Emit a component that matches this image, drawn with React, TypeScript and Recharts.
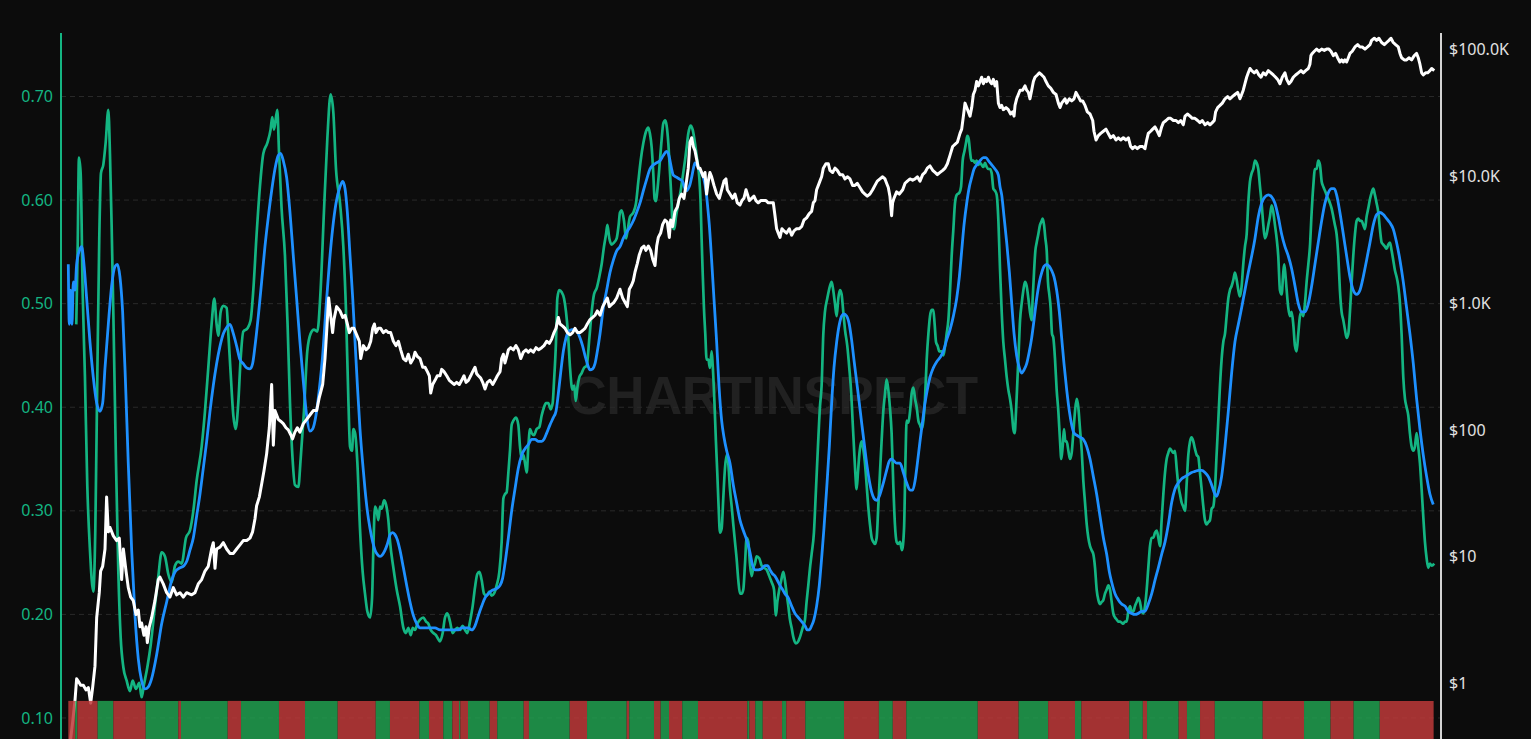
import React from 'react';
import {
  LineChart,
  Line,
  XAxis,
  YAxis,
  CartesianGrid,
  ReferenceArea,
} from 'recharts';

// [decimal year, value]
const oscillator: [number, number][] = [
  [2011.07, 0.48], [2011.085, 0.55], [2011.1, 0.641], [2011.119, 0.626], [2011.141, 0.513], [2011.167, 0.429],
  [2011.193, 0.325], [2011.223, 0.262], [2011.26, 0.222], [2011.283, 0.283], [2011.305, 0.429], [2011.327, 0.563],
  [2011.346, 0.626], [2011.372, 0.634], [2011.398, 0.655], [2011.428, 0.687], [2011.447, 0.643], [2011.465, 0.576],
  [2011.484, 0.492], [2011.514, 0.346], [2011.54, 0.241], [2011.566, 0.178], [2011.596, 0.149], [2011.633, 0.136],
  [2011.67, 0.126], [2011.7, 0.136], [2011.737, 0.128], [2011.774, 0.134], [2011.8, 0.12], [2011.826, 0.132],
  [2011.864, 0.149], [2011.901, 0.17], [2011.949, 0.208], [2011.987, 0.237], [2012.024, 0.26], [2012.061, 0.256],
  [2012.098, 0.239], [2012.136, 0.231], [2012.173, 0.247], [2012.21, 0.251], [2012.247, 0.249], [2012.296, 0.274],
  [2012.34, 0.281], [2012.378, 0.3], [2012.415, 0.329], [2012.471, 0.362], [2012.508, 0.396], [2012.545, 0.438],
  [2012.582, 0.48], [2012.612, 0.505], [2012.638, 0.48], [2012.657, 0.469], [2012.683, 0.492], [2012.713, 0.498],
  [2012.75, 0.496], [2012.769, 0.471], [2012.795, 0.433], [2012.825, 0.392], [2012.851, 0.379], [2012.88, 0.404],
  [2012.906, 0.446], [2012.936, 0.473], [2012.981, 0.476], [2013.018, 0.484], [2013.048, 0.513], [2013.085, 0.567],
  [2013.122, 0.613], [2013.16, 0.645], [2013.204, 0.655], [2013.241, 0.668], [2013.26, 0.68], [2013.279, 0.668],
  [2013.316, 0.687], [2013.335, 0.647], [2013.364, 0.592], [2013.402, 0.546], [2013.431, 0.48], [2013.458, 0.404],
  [2013.487, 0.35], [2013.513, 0.325], [2013.551, 0.323], [2013.577, 0.35], [2013.614, 0.396], [2013.651, 0.454],
  [2013.688, 0.471], [2013.726, 0.475], [2013.763, 0.473], [2013.8, 0.513], [2013.837, 0.588], [2013.875, 0.659],
  [2013.912, 0.702], [2013.942, 0.685], [2013.972, 0.63], [2014.017, 0.597], [2014.054, 0.555], [2014.084, 0.492],
  [2014.11, 0.408], [2014.129, 0.362], [2014.151, 0.358], [2014.166, 0.379], [2014.185, 0.375], [2014.211, 0.346],
  [2014.24, 0.283], [2014.27, 0.241], [2014.296, 0.22], [2014.322, 0.203], [2014.352, 0.197], [2014.375, 0.216],
  [2014.389, 0.262], [2014.408, 0.304], [2014.427, 0.3], [2014.445, 0.291], [2014.464, 0.304], [2014.483, 0.302],
  [2014.509, 0.31], [2014.531, 0.306], [2014.557, 0.291], [2014.576, 0.27], [2014.613, 0.245], [2014.65, 0.224],
  [2014.687, 0.208], [2014.725, 0.187], [2014.754, 0.182], [2014.78, 0.187], [2014.807, 0.18], [2014.829, 0.187],
  [2014.855, 0.185], [2014.881, 0.191], [2014.911, 0.195], [2014.948, 0.197], [2014.978, 0.193], [2015.004, 0.191],
  [2015.03, 0.185], [2015.06, 0.182], [2015.089, 0.18], [2015.116, 0.176], [2015.134, 0.174], [2015.164, 0.182],
  [2015.19, 0.197], [2015.216, 0.201], [2015.246, 0.193], [2015.276, 0.182], [2015.302, 0.185], [2015.328, 0.187],
  [2015.358, 0.185], [2015.387, 0.189], [2015.414, 0.185], [2015.44, 0.182], [2015.469, 0.193], [2015.499, 0.208],
  [2015.525, 0.226], [2015.551, 0.239], [2015.574, 0.241], [2015.6, 0.233], [2015.626, 0.22], [2015.656, 0.218],
  [2015.685, 0.222], [2015.711, 0.218], [2015.737, 0.22], [2015.767, 0.228], [2015.797, 0.241], [2015.823, 0.27],
  [2015.842, 0.312], [2015.86, 0.316], [2015.879, 0.318], [2015.898, 0.337], [2015.916, 0.358], [2015.935, 0.383],
  [2015.954, 0.387], [2015.983, 0.39], [2016.009, 0.383], [2016.028, 0.362], [2016.047, 0.35], [2016.065, 0.354],
  [2016.084, 0.346], [2016.103, 0.337], [2016.121, 0.362], [2016.14, 0.379], [2016.158, 0.375], [2016.184, 0.373],
  [2016.214, 0.379], [2016.244, 0.381], [2016.27, 0.392], [2016.296, 0.4], [2016.318, 0.404], [2016.344, 0.404],
  [2016.37, 0.398], [2016.393, 0.404], [2016.408, 0.425], [2016.43, 0.463], [2016.445, 0.505], [2016.467, 0.513],
  [2016.494, 0.511], [2016.52, 0.505], [2016.542, 0.492], [2016.564, 0.471], [2016.587, 0.438], [2016.613, 0.417],
  [2016.635, 0.421], [2016.65, 0.406], [2016.669, 0.419], [2016.691, 0.429], [2016.717, 0.433], [2016.743, 0.438],
  [2016.773, 0.44], [2016.803, 0.467], [2016.829, 0.492], [2016.855, 0.509], [2016.885, 0.515], [2016.914, 0.526],
  [2016.94, 0.538], [2016.966, 0.555], [2016.989, 0.567], [2017.004, 0.576], [2017.026, 0.563], [2017.052, 0.557],
  [2017.078, 0.559], [2017.108, 0.563], [2017.13, 0.576], [2017.145, 0.588], [2017.164, 0.59], [2017.19, 0.58],
  [2017.212, 0.563], [2017.227, 0.569], [2017.257, 0.584], [2017.294, 0.588], [2017.324, 0.597], [2017.35, 0.618],
  [2017.376, 0.638], [2017.406, 0.655], [2017.435, 0.666], [2017.462, 0.67], [2017.48, 0.664], [2017.499, 0.651],
  [2017.517, 0.626], [2017.532, 0.601], [2017.547, 0.599], [2017.562, 0.609], [2017.584, 0.63], [2017.607, 0.655],
  [2017.629, 0.674], [2017.651, 0.677], [2017.666, 0.672], [2017.685, 0.655], [2017.704, 0.626], [2017.722, 0.597],
  [2017.733, 0.574], [2017.752, 0.572], [2017.771, 0.584], [2017.797, 0.597], [2017.823, 0.609], [2017.845, 0.622],
  [2017.871, 0.638], [2017.89, 0.651], [2017.908, 0.664], [2017.934, 0.672], [2017.957, 0.668], [2017.983, 0.655],
  [2018.009, 0.638], [2018.031, 0.622], [2018.046, 0.597], [2018.057, 0.563], [2018.069, 0.53], [2018.083, 0.496],
  [2018.098, 0.471], [2018.113, 0.446], [2018.132, 0.446], [2018.15, 0.438], [2018.169, 0.454], [2018.18, 0.442],
  [2018.199, 0.408], [2018.217, 0.367], [2018.232, 0.337], [2018.247, 0.304], [2018.262, 0.279], [2018.281, 0.283],
  [2018.299, 0.312], [2018.318, 0.341], [2018.337, 0.354], [2018.355, 0.346], [2018.374, 0.321], [2018.393, 0.304],
  [2018.411, 0.287], [2018.43, 0.27], [2018.448, 0.254], [2018.467, 0.233], [2018.486, 0.22], [2018.504, 0.22],
  [2018.523, 0.224], [2018.542, 0.249], [2018.56, 0.274], [2018.579, 0.27], [2018.597, 0.249], [2018.616, 0.237],
  [2018.635, 0.245], [2018.653, 0.249], [2018.672, 0.256], [2018.702, 0.254], [2018.728, 0.247], [2018.754, 0.245],
  [2018.784, 0.243], [2018.813, 0.237], [2018.84, 0.231], [2018.866, 0.224], [2018.888, 0.199], [2018.903, 0.212],
  [2018.925, 0.224], [2018.947, 0.233], [2018.97, 0.241], [2018.988, 0.233], [2019.007, 0.22], [2019.026, 0.208],
  [2019.044, 0.195], [2019.063, 0.187], [2019.082, 0.178], [2019.111, 0.172], [2019.137, 0.174], [2019.163, 0.18],
  [2019.186, 0.187], [2019.212, 0.195], [2019.23, 0.212], [2019.249, 0.228], [2019.268, 0.245], [2019.286, 0.258],
  [2019.312, 0.279], [2019.335, 0.321], [2019.357, 0.362], [2019.379, 0.4], [2019.398, 0.421], [2019.417, 0.471],
  [2019.435, 0.492], [2019.461, 0.505], [2019.491, 0.517], [2019.51, 0.521], [2019.528, 0.513], [2019.547, 0.5],
  [2019.566, 0.488], [2019.584, 0.505], [2019.603, 0.513], [2019.621, 0.509], [2019.64, 0.492], [2019.659, 0.475],
  [2019.685, 0.459], [2019.707, 0.438], [2019.729, 0.413], [2019.744, 0.387], [2019.759, 0.362], [2019.774, 0.337],
  [2019.789, 0.321], [2019.804, 0.337], [2019.819, 0.354], [2019.834, 0.364], [2019.849, 0.367], [2019.863, 0.36],
  [2019.882, 0.346], [2019.901, 0.325], [2019.919, 0.304], [2019.938, 0.287], [2019.957, 0.274], [2019.975, 0.27],
  [2019.994, 0.268], [2020.013, 0.274], [2020.031, 0.304], [2020.05, 0.337], [2020.068, 0.367], [2020.087, 0.396],
  [2020.106, 0.413], [2020.124, 0.427], [2020.143, 0.417], [2020.161, 0.4], [2020.18, 0.375], [2020.199, 0.325],
  [2020.217, 0.287], [2020.236, 0.27], [2020.255, 0.268], [2020.274, 0.27], [2020.296, 0.262], [2020.319, 0.283],
  [2020.334, 0.346], [2020.348, 0.387], [2020.367, 0.385], [2020.386, 0.396], [2020.404, 0.413], [2020.423, 0.419],
  [2020.442, 0.408], [2020.46, 0.4], [2020.479, 0.387], [2020.497, 0.383], [2020.516, 0.379], [2020.535, 0.387],
  [2020.553, 0.408], [2020.572, 0.446], [2020.591, 0.471], [2020.609, 0.488], [2020.628, 0.494], [2020.646, 0.494],
  [2020.661, 0.48], [2020.676, 0.463], [2020.695, 0.459], [2020.713, 0.454], [2020.74, 0.454], [2020.758, 0.45],
  [2020.777, 0.459], [2020.795, 0.471], [2020.814, 0.484], [2020.833, 0.513], [2020.851, 0.546], [2020.87, 0.572],
  [2020.888, 0.597], [2020.907, 0.605], [2020.937, 0.607], [2020.956, 0.613], [2020.974, 0.638], [2020.993, 0.647],
  [2021.011, 0.655], [2021.026, 0.662], [2021.041, 0.659], [2021.056, 0.647], [2021.071, 0.638], [2021.093, 0.638],
  [2021.112, 0.636], [2021.13, 0.638], [2021.149, 0.634], [2021.168, 0.636], [2021.186, 0.634], [2021.205, 0.632],
  [2021.224, 0.636], [2021.242, 0.632], [2021.261, 0.63], [2021.279, 0.63], [2021.298, 0.626], [2021.317, 0.611],
  [2021.335, 0.609], [2021.354, 0.605], [2021.373, 0.58], [2021.391, 0.534], [2021.41, 0.492], [2021.428, 0.463],
  [2021.447, 0.446], [2021.466, 0.429], [2021.484, 0.417], [2021.503, 0.408], [2021.522, 0.396], [2021.54, 0.379],
  [2021.555, 0.375], [2021.57, 0.396], [2021.585, 0.425], [2021.6, 0.454], [2021.615, 0.484], [2021.633, 0.5],
  [2021.652, 0.513], [2021.67, 0.521], [2021.689, 0.517], [2021.708, 0.505], [2021.726, 0.492], [2021.745, 0.484],
  [2021.756, 0.505], [2021.771, 0.53], [2021.786, 0.551], [2021.801, 0.559], [2021.819, 0.567], [2021.838, 0.576],
  [2021.857, 0.58], [2021.868, 0.582], [2021.883, 0.576], [2021.898, 0.563], [2021.913, 0.551], [2021.927, 0.521],
  [2021.942, 0.509], [2021.957, 0.496], [2021.972, 0.471], [2021.987, 0.467], [2022.006, 0.446], [2022.024, 0.417],
  [2022.043, 0.396], [2022.062, 0.367], [2022.076, 0.35], [2022.091, 0.362], [2022.106, 0.379], [2022.121, 0.367],
  [2022.136, 0.367], [2022.155, 0.358], [2022.173, 0.35], [2022.192, 0.356], [2022.21, 0.375], [2022.229, 0.396],
  [2022.248, 0.408], [2022.266, 0.4], [2022.285, 0.379], [2022.304, 0.358], [2022.322, 0.329], [2022.341, 0.308],
  [2022.36, 0.287], [2022.378, 0.274], [2022.397, 0.266], [2022.415, 0.262], [2022.434, 0.258], [2022.453, 0.245],
  [2022.471, 0.224], [2022.49, 0.214], [2022.508, 0.21], [2022.527, 0.212], [2022.546, 0.214], [2022.564, 0.22],
  [2022.583, 0.224], [2022.601, 0.228], [2022.62, 0.224], [2022.639, 0.212], [2022.657, 0.201], [2022.676, 0.197],
  [2022.695, 0.195], [2022.713, 0.193], [2022.732, 0.193], [2022.75, 0.192], [2022.769, 0.191], [2022.788, 0.193],
  [2022.806, 0.193], [2022.825, 0.203], [2022.844, 0.208], [2022.862, 0.203], [2022.881, 0.203], [2022.899, 0.208],
  [2022.918, 0.212], [2022.937, 0.216], [2022.955, 0.212], [2022.974, 0.203], [2022.993, 0.201], [2023.011, 0.208],
  [2023.03, 0.224], [2023.048, 0.245], [2023.067, 0.266], [2023.086, 0.274], [2023.104, 0.274], [2023.123, 0.279],
  [2023.142, 0.281], [2023.16, 0.274], [2023.179, 0.266], [2023.197, 0.291], [2023.216, 0.316], [2023.235, 0.337],
  [2023.253, 0.35], [2023.272, 0.356], [2023.29, 0.36], [2023.309, 0.358], [2023.328, 0.356], [2023.346, 0.358],
  [2023.365, 0.341], [2023.383, 0.325], [2023.402, 0.316], [2023.42, 0.308], [2023.439, 0.304], [2023.458, 0.3],
  [2023.476, 0.325], [2023.495, 0.354], [2023.514, 0.367], [2023.532, 0.371], [2023.551, 0.367], [2023.569, 0.36],
  [2023.588, 0.354], [2023.607, 0.352], [2023.625, 0.337], [2023.644, 0.321], [2023.663, 0.304], [2023.681, 0.291],
  [2023.7, 0.287], [2023.718, 0.289], [2023.737, 0.291], [2023.756, 0.302], [2023.774, 0.304], [2023.793, 0.321],
  [2023.811, 0.354], [2023.83, 0.387], [2023.849, 0.421], [2023.867, 0.446], [2023.886, 0.463], [2023.905, 0.471],
  [2023.923, 0.488], [2023.942, 0.505], [2023.96, 0.513], [2023.979, 0.517], [2023.998, 0.523], [2024.016, 0.53],
  [2024.035, 0.523], [2024.054, 0.513], [2024.072, 0.507], [2024.091, 0.517], [2024.109, 0.538], [2024.128, 0.555],
  [2024.147, 0.567], [2024.165, 0.597], [2024.184, 0.618], [2024.203, 0.626], [2024.221, 0.63], [2024.24, 0.638],
  [2024.258, 0.636], [2024.277, 0.63], [2024.296, 0.613], [2024.314, 0.597], [2024.333, 0.576], [2024.351, 0.563],
  [2024.37, 0.567], [2024.389, 0.576], [2024.407, 0.584], [2024.426, 0.595], [2024.445, 0.588], [2024.463, 0.576],
  [2024.482, 0.563], [2024.5, 0.546], [2024.519, 0.513], [2024.538, 0.509], [2024.556, 0.53], [2024.567, 0.538],
  [2024.582, 0.526], [2024.594, 0.513], [2024.612, 0.496], [2024.631, 0.488], [2024.649, 0.492], [2024.668, 0.48],
  [2024.687, 0.459], [2024.705, 0.454], [2024.724, 0.471], [2024.743, 0.488], [2024.761, 0.492], [2024.78, 0.488],
  [2024.798, 0.5], [2024.817, 0.521], [2024.836, 0.538], [2024.854, 0.555], [2024.873, 0.588], [2024.891, 0.613],
  [2024.91, 0.63], [2024.929, 0.63], [2024.947, 0.638], [2024.966, 0.634], [2024.985, 0.618], [2025.003, 0.613],
  [2025.022, 0.609], [2025.04, 0.605], [2025.059, 0.601], [2025.078, 0.597], [2025.096, 0.592], [2025.115, 0.584],
  [2025.133, 0.576], [2025.152, 0.567], [2025.171, 0.546], [2025.189, 0.513], [2025.208, 0.492], [2025.227, 0.484],
  [2025.245, 0.475], [2025.264, 0.467], [2025.283, 0.471], [2025.301, 0.492], [2025.32, 0.521], [2025.338, 0.546],
  [2025.357, 0.567], [2025.376, 0.58], [2025.394, 0.582], [2025.413, 0.58], [2025.431, 0.58], [2025.45, 0.576],
  [2025.469, 0.572], [2025.487, 0.584], [2025.506, 0.592], [2025.525, 0.601], [2025.543, 0.607], [2025.562, 0.611],
  [2025.58, 0.605], [2025.599, 0.597], [2025.618, 0.588], [2025.636, 0.572], [2025.655, 0.559], [2025.674, 0.557],
  [2025.692, 0.555], [2025.711, 0.553], [2025.729, 0.557], [2025.748, 0.559], [2025.767, 0.551], [2025.785, 0.542],
  [2025.804, 0.532], [2025.822, 0.526], [2025.841, 0.517], [2025.86, 0.5], [2025.878, 0.471], [2025.897, 0.429],
  [2025.916, 0.408], [2025.934, 0.4], [2025.953, 0.392], [2025.971, 0.375], [2025.99, 0.362], [2026.009, 0.358],
  [2026.027, 0.362], [2026.046, 0.375], [2026.064, 0.362], [2026.083, 0.346], [2026.102, 0.321], [2026.12, 0.295],
  [2026.139, 0.27], [2026.158, 0.254], [2026.176, 0.245], [2026.195, 0.249], [2026.214, 0.247], [2026.243, 0.249],
];

const smoothed: [number, number][] = [
  [2010.981, 0.538], [2010.992, 0.48], [2011.007, 0.513], [2011.022, 0.48], [2011.037, 0.521], [2011.056, 0.513],
  [2011.074, 0.538], [2011.104, 0.551], [2011.13, 0.555], [2011.156, 0.538], [2011.186, 0.505], [2011.223, 0.463],
  [2011.26, 0.429], [2011.298, 0.404], [2011.335, 0.396], [2011.365, 0.404], [2011.391, 0.438], [2011.428, 0.48],
  [2011.465, 0.517], [2011.503, 0.536], [2011.529, 0.538], [2011.558, 0.526], [2011.588, 0.492], [2011.618, 0.429],
  [2011.651, 0.346], [2011.689, 0.262], [2011.726, 0.199], [2011.763, 0.157], [2011.8, 0.136], [2011.838, 0.128],
  [2011.875, 0.13], [2011.912, 0.138], [2011.968, 0.161], [2012.024, 0.191], [2012.08, 0.212], [2012.136, 0.233],
  [2012.173, 0.241], [2012.229, 0.245], [2012.273, 0.247], [2012.303, 0.251], [2012.34, 0.262], [2012.378, 0.274],
  [2012.415, 0.295], [2012.452, 0.316], [2012.489, 0.341], [2012.527, 0.367], [2012.564, 0.396], [2012.601, 0.421],
  [2012.638, 0.442], [2012.676, 0.459], [2012.713, 0.471], [2012.75, 0.477], [2012.787, 0.48], [2012.825, 0.471],
  [2012.862, 0.459], [2012.899, 0.446], [2012.936, 0.442], [2012.974, 0.438], [2013.011, 0.437], [2013.04, 0.442],
  [2013.067, 0.459], [2013.104, 0.488], [2013.141, 0.521], [2013.178, 0.555], [2013.216, 0.584], [2013.253, 0.609],
  [2013.29, 0.63], [2013.327, 0.643], [2013.353, 0.645], [2013.383, 0.638], [2013.42, 0.622], [2013.458, 0.588],
  [2013.495, 0.546], [2013.532, 0.505], [2013.569, 0.463], [2013.607, 0.425], [2013.644, 0.392], [2013.681, 0.377],
  [2013.711, 0.379], [2013.748, 0.392], [2013.785, 0.417], [2013.823, 0.45], [2013.86, 0.496], [2013.897, 0.538],
  [2013.934, 0.572], [2013.972, 0.597], [2014.017, 0.613], [2014.047, 0.618], [2014.073, 0.611], [2014.099, 0.588],
  [2014.129, 0.546], [2014.159, 0.505], [2014.185, 0.463], [2014.211, 0.421], [2014.24, 0.379], [2014.27, 0.346],
  [2014.296, 0.321], [2014.322, 0.3], [2014.352, 0.283], [2014.382, 0.27], [2014.408, 0.262], [2014.434, 0.258],
  [2014.464, 0.256], [2014.494, 0.258], [2014.52, 0.262], [2014.546, 0.268], [2014.576, 0.277], [2014.605, 0.279],
  [2014.631, 0.277], [2014.658, 0.272], [2014.687, 0.262], [2014.725, 0.245], [2014.762, 0.228], [2014.799, 0.212],
  [2014.836, 0.199], [2014.874, 0.191], [2014.911, 0.187], [2014.948, 0.187], [2014.985, 0.187], [2015.03, 0.187],
  [2015.078, 0.187], [2015.134, 0.185], [2015.179, 0.185], [2015.227, 0.185], [2015.283, 0.185], [2015.339, 0.185],
  [2015.376, 0.187], [2015.414, 0.187], [2015.451, 0.187], [2015.488, 0.185], [2015.525, 0.189], [2015.563, 0.199],
  [2015.6, 0.208], [2015.637, 0.216], [2015.674, 0.22], [2015.711, 0.223], [2015.767, 0.225], [2015.805, 0.228],
  [2015.834, 0.235], [2015.86, 0.249], [2015.898, 0.274], [2015.935, 0.3], [2015.972, 0.321], [2016.009, 0.341],
  [2016.047, 0.354], [2016.084, 0.36], [2016.121, 0.364], [2016.158, 0.369], [2016.196, 0.369], [2016.233, 0.367],
  [2016.27, 0.367], [2016.296, 0.369], [2016.326, 0.375], [2016.363, 0.383], [2016.4, 0.39], [2016.43, 0.396],
  [2016.456, 0.413], [2016.482, 0.433], [2016.512, 0.454], [2016.542, 0.467], [2016.572, 0.473], [2016.605, 0.475],
  [2016.642, 0.475], [2016.669, 0.473], [2016.698, 0.467], [2016.728, 0.459], [2016.754, 0.45], [2016.78, 0.442],
  [2016.81, 0.436], [2016.84, 0.437], [2016.866, 0.442], [2016.892, 0.454], [2016.922, 0.471], [2016.959, 0.496],
  [2016.996, 0.513], [2017.033, 0.53], [2017.071, 0.542], [2017.108, 0.551], [2017.145, 0.555], [2017.182, 0.563],
  [2017.219, 0.569], [2017.257, 0.574], [2017.294, 0.58], [2017.331, 0.588], [2017.368, 0.597], [2017.406, 0.609],
  [2017.443, 0.62], [2017.48, 0.63], [2017.517, 0.634], [2017.555, 0.636], [2017.592, 0.638], [2017.629, 0.643],
  [2017.666, 0.647], [2017.685, 0.645], [2017.704, 0.638], [2017.722, 0.63], [2017.741, 0.624], [2017.778, 0.622],
  [2017.815, 0.62], [2017.845, 0.618], [2017.871, 0.611], [2017.89, 0.609], [2017.908, 0.611], [2017.927, 0.615],
  [2017.946, 0.622], [2017.964, 0.63], [2017.983, 0.636], [2018.002, 0.634], [2018.031, 0.63], [2018.057, 0.626],
  [2018.083, 0.62], [2018.106, 0.609], [2018.121, 0.597], [2018.143, 0.576], [2018.169, 0.542], [2018.195, 0.505],
  [2018.225, 0.463], [2018.251, 0.421], [2018.281, 0.387], [2018.307, 0.371], [2018.337, 0.358], [2018.374, 0.346],
  [2018.411, 0.325], [2018.448, 0.308], [2018.486, 0.291], [2018.523, 0.281], [2018.56, 0.272], [2018.597, 0.26],
  [2018.627, 0.247], [2018.653, 0.243], [2018.69, 0.243], [2018.728, 0.244], [2018.765, 0.247], [2018.795, 0.247],
  [2018.821, 0.243], [2018.851, 0.239], [2018.877, 0.237], [2018.903, 0.233], [2018.933, 0.228], [2018.962, 0.224],
  [2018.988, 0.22], [2019.026, 0.216], [2019.063, 0.208], [2019.1, 0.201], [2019.137, 0.197], [2019.175, 0.193],
  [2019.212, 0.189], [2019.238, 0.185], [2019.26, 0.185], [2019.286, 0.189], [2019.312, 0.195], [2019.342, 0.208],
  [2019.372, 0.228], [2019.398, 0.254], [2019.424, 0.283], [2019.454, 0.321], [2019.484, 0.362], [2019.51, 0.404],
  [2019.536, 0.438], [2019.566, 0.463], [2019.596, 0.48], [2019.621, 0.488], [2019.647, 0.49], [2019.677, 0.488],
  [2019.707, 0.48], [2019.733, 0.465], [2019.759, 0.446], [2019.789, 0.425], [2019.819, 0.404], [2019.845, 0.385],
  [2019.871, 0.367], [2019.901, 0.346], [2019.931, 0.329], [2019.957, 0.318], [2019.983, 0.312], [2020.013, 0.31],
  [2020.042, 0.314], [2020.068, 0.321], [2020.094, 0.329], [2020.124, 0.339], [2020.154, 0.348], [2020.18, 0.35],
  [2020.206, 0.348], [2020.236, 0.346], [2020.274, 0.346], [2020.311, 0.337], [2020.348, 0.327], [2020.386, 0.32],
  [2020.415, 0.32], [2020.442, 0.329], [2020.468, 0.346], [2020.497, 0.367], [2020.527, 0.387], [2020.553, 0.404],
  [2020.579, 0.417], [2020.609, 0.429], [2020.646, 0.438], [2020.684, 0.444], [2020.721, 0.448], [2020.758, 0.454],
  [2020.795, 0.465], [2020.833, 0.475], [2020.87, 0.488], [2020.907, 0.505], [2020.937, 0.526], [2020.963, 0.551],
  [2020.989, 0.576], [2021.019, 0.597], [2021.049, 0.613], [2021.075, 0.622], [2021.101, 0.63], [2021.13, 0.634],
  [2021.168, 0.638], [2021.205, 0.641], [2021.235, 0.641], [2021.261, 0.638], [2021.298, 0.634], [2021.335, 0.63],
  [2021.373, 0.624], [2021.391, 0.613], [2021.41, 0.605], [2021.436, 0.584], [2021.466, 0.559], [2021.496, 0.53],
  [2021.522, 0.5], [2021.548, 0.471], [2021.577, 0.45], [2021.607, 0.438], [2021.633, 0.433], [2021.659, 0.436],
  [2021.689, 0.442], [2021.719, 0.454], [2021.745, 0.467], [2021.771, 0.484], [2021.801, 0.505], [2021.831, 0.521],
  [2021.857, 0.53], [2021.883, 0.536], [2021.913, 0.538], [2021.942, 0.536], [2021.968, 0.532], [2021.994, 0.526],
  [2022.024, 0.513], [2022.054, 0.492], [2022.08, 0.467], [2022.106, 0.442], [2022.136, 0.417], [2022.166, 0.396],
  [2022.192, 0.383], [2022.218, 0.375], [2022.248, 0.373], [2022.285, 0.371], [2022.322, 0.369], [2022.36, 0.362],
  [2022.397, 0.35], [2022.434, 0.333], [2022.471, 0.316], [2022.508, 0.295], [2022.546, 0.274], [2022.583, 0.258],
  [2022.613, 0.241], [2022.639, 0.231], [2022.676, 0.22], [2022.713, 0.214], [2022.75, 0.21], [2022.788, 0.208],
  [2022.825, 0.203], [2022.862, 0.201], [2022.899, 0.2], [2022.937, 0.201], [2022.974, 0.203], [2023.011, 0.203],
  [2023.048, 0.21], [2023.086, 0.22], [2023.123, 0.233], [2023.16, 0.245], [2023.197, 0.258], [2023.235, 0.27],
  [2023.272, 0.287], [2023.309, 0.308], [2023.346, 0.321], [2023.384, 0.327], [2023.421, 0.331], [2023.458, 0.333],
  [2023.495, 0.335], [2023.532, 0.337], [2023.569, 0.338], [2023.607, 0.339], [2023.644, 0.339], [2023.681, 0.337],
  [2023.718, 0.333], [2023.756, 0.325], [2023.793, 0.316], [2023.811, 0.314], [2023.83, 0.318], [2023.867, 0.333],
  [2023.905, 0.362], [2023.942, 0.396], [2023.979, 0.433], [2024.016, 0.463], [2024.054, 0.48], [2024.091, 0.496],
  [2024.128, 0.513], [2024.165, 0.53], [2024.203, 0.546], [2024.24, 0.563], [2024.277, 0.584], [2024.314, 0.597],
  [2024.351, 0.603], [2024.389, 0.605], [2024.426, 0.603], [2024.463, 0.597], [2024.5, 0.584], [2024.538, 0.567],
  [2024.575, 0.555], [2024.612, 0.546], [2024.649, 0.534], [2024.687, 0.517], [2024.724, 0.5], [2024.761, 0.492],
  [2024.798, 0.492], [2024.836, 0.5], [2024.873, 0.517], [2024.91, 0.538], [2024.947, 0.559], [2024.985, 0.58],
  [2025.022, 0.597], [2025.059, 0.607], [2025.096, 0.611], [2025.126, 0.611], [2025.152, 0.605], [2025.189, 0.588],
  [2025.227, 0.567], [2025.264, 0.546], [2025.301, 0.526], [2025.338, 0.513], [2025.376, 0.509], [2025.413, 0.513],
  [2025.45, 0.526], [2025.487, 0.542], [2025.525, 0.559], [2025.562, 0.576], [2025.599, 0.586], [2025.636, 0.588],
  [2025.674, 0.586], [2025.711, 0.582], [2025.748, 0.578], [2025.785, 0.572], [2025.822, 0.559], [2025.86, 0.542],
  [2025.897, 0.521], [2025.934, 0.496], [2025.971, 0.471], [2026.009, 0.442], [2026.046, 0.408], [2026.083, 0.379],
  [2026.12, 0.354], [2026.158, 0.333], [2026.195, 0.316], [2026.232, 0.306],
];

// USD price
const price: [number, number][] = [
  [2011.0, 0.33], [2011.03, 0.5], [2011.056, 0.74], [2011.074, 1.09], [2011.093, 1.04], [2011.119, 0.97],
  [2011.149, 0.97], [2011.178, 0.89], [2011.205, 0.93], [2011.231, 0.7], [2011.253, 0.93], [2011.279, 1.37],
  [2011.298, 3.3], [2011.327, 5.2], [2011.342, 7.7], [2011.365, 8.4], [2011.391, 11.5], [2011.409, 29.5],
  [2011.428, 15.7], [2011.447, 17], [2011.484, 14.6], [2011.521, 13.4], [2011.551, 14], [2011.577, 6.6],
  [2011.596, 11.5], [2011.626, 7.7], [2011.651, 5.7], [2011.678, 4.8], [2011.707, 4.5], [2011.737, 3.5],
  [2011.763, 3.8], [2011.782, 2.8], [2011.8, 3], [2011.826, 2.4], [2011.849, 2.8], [2011.864, 2.1],
  [2011.886, 2.8], [2011.912, 3.3], [2011.949, 4.5], [2011.987, 6.6], [2012.005, 6.9], [2012.042, 6.1],
  [2012.08, 5.2], [2012.117, 4.8], [2012.154, 5.7], [2012.191, 5], [2012.229, 5.2], [2012.266, 4.8],
  [2012.303, 5.2], [2012.359, 5], [2012.396, 5.2], [2012.433, 6.1], [2012.471, 6.6], [2012.508, 7.7],
  [2012.545, 8.4], [2012.582, 11.5], [2012.601, 12.9], [2012.62, 8.1], [2012.638, 11.5], [2012.676, 11.9],
  [2012.713, 12.9], [2012.75, 11.5], [2012.787, 10.6], [2012.825, 10.6], [2012.862, 11.5], [2012.899, 12.4],
  [2012.936, 13.4], [2012.974, 13.4], [2013.011, 14], [2013.04, 15.7], [2013.067, 19.9], [2013.085, 25.2],
  [2013.115, 29.5], [2013.141, 37.3], [2013.167, 47.3], [2013.197, 64.7], [2013.227, 104], [2013.253, 228],
  [2013.272, 75.7], [2013.29, 142], [2013.309, 131], [2013.327, 121], [2013.353, 117], [2013.383, 112],
  [2013.413, 104], [2013.439, 100], [2013.465, 92], [2013.487, 85], [2013.513, 96], [2013.54, 104],
  [2013.569, 96], [2013.607, 112], [2013.644, 121], [2013.681, 131], [2013.718, 142], [2013.756, 142],
  [2013.785, 180], [2013.823, 228], [2013.849, 365], [2013.867, 585], [2013.89, 1097], [2013.912, 802],
  [2013.934, 585], [2013.949, 741], [2013.979, 938], [2014.017, 867], [2014.047, 771], [2014.073, 802],
  [2014.099, 684], [2014.121, 585], [2014.147, 632], [2014.173, 632], [2014.203, 562], [2014.233, 500],
  [2014.248, 365], [2014.278, 462], [2014.307, 428], [2014.334, 445], [2014.36, 500], [2014.382, 632],
  [2014.401, 684], [2014.419, 585], [2014.445, 632], [2014.471, 632], [2014.501, 585], [2014.531, 608],
  [2014.557, 585], [2014.583, 585], [2014.613, 500], [2014.643, 462], [2014.669, 500], [2014.695, 428],
  [2014.725, 365], [2014.754, 351], [2014.78, 395], [2014.807, 337], [2014.836, 365], [2014.855, 410],
  [2014.881, 379], [2014.911, 365], [2014.941, 312], [2014.967, 312], [2014.993, 288], [2015.015, 267],
  [2015.03, 195], [2015.052, 228], [2015.078, 246], [2015.104, 267], [2015.134, 267], [2015.153, 300],
  [2015.179, 288], [2015.209, 267], [2015.238, 246], [2015.265, 237], [2015.291, 228], [2015.32, 237],
  [2015.35, 228], [2015.376, 246], [2015.402, 267], [2015.425, 237], [2015.451, 246], [2015.477, 267],
  [2015.499, 288], [2015.525, 312], [2015.544, 277], [2015.563, 267], [2015.589, 256], [2015.611, 237],
  [2015.637, 210], [2015.663, 237], [2015.693, 246], [2015.723, 228], [2015.749, 246], [2015.775, 267],
  [2015.805, 288], [2015.823, 365], [2015.842, 395], [2015.86, 337], [2015.879, 379], [2015.898, 428],
  [2015.924, 445], [2015.954, 428], [2015.983, 462], [2016.009, 428], [2016.036, 365], [2016.065, 410],
  [2016.095, 428], [2016.121, 410], [2016.147, 428], [2016.177, 410], [2016.207, 445], [2016.236, 428],
  [2016.27, 445], [2016.296, 462], [2016.326, 500], [2016.356, 481], [2016.382, 520], [2016.408, 585],
  [2016.43, 632], [2016.456, 771], [2016.475, 684], [2016.505, 658], [2016.531, 632], [2016.557, 585],
  [2016.587, 562], [2016.616, 585], [2016.642, 632], [2016.669, 585], [2016.698, 585], [2016.728, 608],
  [2016.754, 632], [2016.78, 684], [2016.81, 741], [2016.84, 771], [2016.866, 802], [2016.892, 867],
  [2016.922, 802], [2016.952, 938], [2016.978, 1014], [2017.004, 1097], [2017.026, 938], [2017.052, 975],
  [2017.078, 1014], [2017.108, 1097], [2017.145, 1285], [2017.175, 1097], [2017.201, 1014], [2017.227, 938],
  [2017.249, 1285], [2017.275, 1390], [2017.294, 1503], [2017.313, 1759], [2017.339, 2057], [2017.361, 2410],
  [2017.387, 2710], [2017.413, 2818], [2017.435, 2606], [2017.462, 2818], [2017.488, 2606], [2017.51, 2228],
  [2017.536, 1977], [2017.555, 2818], [2017.573, 3296], [2017.599, 3565], [2017.622, 4178], [2017.648, 4519],
  [2017.674, 4345], [2017.696, 3296], [2017.711, 4519], [2017.733, 4018], [2017.759, 5284], [2017.786, 5715],
  [2017.808, 6699], [2017.834, 7244], [2017.86, 6699], [2017.882, 8472], [2017.908, 11590], [2017.927, 18580],
  [2017.946, 20130], [2017.964, 17170], [2017.983, 15890], [2018.002, 13580], [2018.02, 11590], [2018.039, 11590],
  [2018.057, 10720], [2018.076, 9910], [2018.095, 10720], [2018.113, 7244], [2018.132, 9160], [2018.15, 10720],
  [2018.169, 9910], [2018.195, 8472], [2018.225, 7244], [2018.255, 6699], [2018.281, 7830], [2018.307, 9160],
  [2018.329, 9530], [2018.344, 7830], [2018.374, 7244], [2018.404, 6699], [2018.43, 7244], [2018.456, 6180],
  [2018.486, 5940], [2018.508, 6430], [2018.53, 6699], [2018.553, 7830], [2018.568, 7244], [2018.59, 6430],
  [2018.616, 6699], [2018.642, 6970], [2018.664, 6430], [2018.69, 6180], [2018.717, 6430], [2018.746, 6430],
  [2018.776, 6430], [2018.802, 6180], [2018.828, 6180], [2018.858, 6180], [2018.877, 4890], [2018.895, 3860],
  [2018.914, 3565], [2018.933, 3296], [2018.955, 3860], [2018.977, 3710], [2019.007, 3565], [2019.037, 3860],
  [2019.063, 3430], [2019.089, 3710], [2019.119, 3860], [2019.149, 3860], [2019.175, 4018], [2019.201, 4519],
  [2019.23, 4700], [2019.26, 5080], [2019.286, 5284], [2019.305, 6180], [2019.324, 6430], [2019.342, 7830],
  [2019.361, 8472], [2019.379, 9160], [2019.398, 9910], [2019.417, 11590], [2019.446, 12560], [2019.473, 12560],
  [2019.491, 11140], [2019.521, 10720], [2019.547, 11590], [2019.573, 11140], [2019.603, 10300], [2019.633, 10300],
  [2019.659, 9530], [2019.685, 9910], [2019.715, 9530], [2019.744, 8472], [2019.77, 8472], [2019.796, 8810],
  [2019.826, 8150], [2019.856, 7530], [2019.882, 7244], [2019.908, 6970], [2019.938, 7244], [2019.968, 7830],
  [2019.994, 8472], [2020.02, 9160], [2020.05, 9530], [2020.08, 9910], [2020.106, 9530], [2020.124, 8810],
  [2020.143, 8150], [2020.161, 6970], [2020.18, 4890], [2020.191, 6180], [2020.206, 6699], [2020.236, 7530],
  [2020.266, 7244], [2020.304, 7830], [2020.33, 8810], [2020.356, 9160], [2020.386, 9530], [2020.415, 9310],
  [2020.442, 9530], [2020.468, 9910], [2020.497, 9160], [2020.527, 10300], [2020.553, 10720], [2020.579, 11590],
  [2020.609, 12070], [2020.639, 11140], [2020.665, 10720], [2020.691, 10300], [2020.721, 10720], [2020.751, 11140],
  [2020.777, 11590], [2020.803, 12560], [2020.833, 14690], [2020.862, 17170], [2020.888, 17860], [2020.915, 18580],
  [2020.944, 21780], [2020.963, 23550], [2020.982, 29790], [2021.0, 37760], [2021.019, 34830], [2021.038, 32210],
  [2021.056, 29790], [2021.075, 34830], [2021.093, 44150], [2021.112, 47750], [2021.13, 55850], [2021.149, 51640],
  [2021.168, 55850], [2021.186, 60400], [2021.205, 53700], [2021.224, 58080], [2021.242, 55850], [2021.261, 60400],
  [2021.279, 55850], [2021.298, 53700], [2021.317, 58080], [2021.335, 51640], [2021.354, 55850], [2021.373, 37760],
  [2021.391, 34830], [2021.41, 36220], [2021.428, 33500], [2021.458, 34830], [2021.484, 33500], [2021.51, 30970],
  [2021.533, 32210], [2021.548, 29790], [2021.559, 36220], [2021.577, 40830], [2021.596, 44150], [2021.615, 47750],
  [2021.644, 47750], [2021.67, 51640], [2021.689, 47750], [2021.708, 45920], [2021.726, 40830], [2021.745, 47750],
  [2021.764, 55850], [2021.782, 60400], [2021.808, 62950], [2021.831, 65460], [2021.857, 62950], [2021.883, 60400],
  [2021.905, 55850], [2021.931, 51640], [2021.957, 49660], [2021.987, 45920], [2022.017, 44150], [2022.043, 37760],
  [2022.062, 34830], [2022.08, 37760], [2022.099, 39260], [2022.117, 40830], [2022.136, 37760], [2022.166, 40830],
  [2022.192, 39260], [2022.218, 40830], [2022.24, 45920], [2022.266, 42460], [2022.292, 39260], [2022.315, 39260],
  [2022.341, 36220], [2022.367, 32210], [2022.397, 30970], [2022.427, 27540], [2022.441, 22650], [2022.464, 19320],
  [2022.49, 20940], [2022.516, 21780], [2022.546, 22650], [2022.575, 23550], [2022.601, 21780], [2022.627, 20130],
  [2022.657, 20940], [2022.687, 19320], [2022.713, 20130], [2022.739, 19320], [2022.769, 20130], [2022.799, 19320],
  [2022.825, 20130], [2022.851, 17170], [2022.873, 16520], [2022.899, 17170], [2022.925, 16520], [2022.955, 17170],
  [2022.985, 17170], [2023.011, 16520], [2023.03, 19320], [2023.048, 21780], [2023.074, 22650], [2023.097, 23550],
  [2023.123, 24490], [2023.149, 22650], [2023.171, 20940], [2023.197, 24490], [2023.216, 26490], [2023.246, 27540],
  [2023.272, 28640], [2023.298, 28640], [2023.328, 27540], [2023.358, 27540], [2023.384, 26490], [2023.41, 27540],
  [2023.439, 25470], [2023.458, 29790], [2023.488, 30970], [2023.514, 29790], [2023.54, 28640], [2023.569, 28640],
  [2023.599, 27540], [2023.625, 26490], [2023.651, 27540], [2023.681, 25470], [2023.711, 26490], [2023.737, 25470],
  [2023.763, 26490], [2023.785, 27540], [2023.8, 32210], [2023.823, 34830], [2023.849, 36220], [2023.875, 37760],
  [2023.905, 40830], [2023.934, 42460], [2023.96, 40830], [2023.987, 42460], [2024.016, 44150], [2024.046, 45920],
  [2024.072, 40830], [2024.091, 44150], [2024.109, 47750], [2024.128, 53700], [2024.147, 60400], [2024.165, 65460],
  [2024.184, 70790], [2024.203, 68080], [2024.232, 65460], [2024.258, 68080], [2024.284, 62950], [2024.307, 60400],
  [2024.333, 65460], [2024.359, 62950], [2024.389, 68080], [2024.419, 65460], [2024.445, 62950], [2024.471, 60400],
  [2024.493, 58080], [2024.519, 53700], [2024.545, 60400], [2024.575, 65460], [2024.594, 58080], [2024.62, 53700],
  [2024.642, 55850], [2024.668, 60400], [2024.694, 62950], [2024.724, 65460], [2024.754, 68080], [2024.78, 65460],
  [2024.806, 68080], [2024.836, 70790], [2024.854, 76560], [2024.865, 89540], [2024.88, 93110], [2024.903, 96830],
  [2024.929, 100700], [2024.955, 96830], [2024.985, 100700], [2025.014, 98400], [2025.04, 100700], [2025.066, 100700],
  [2025.089, 96830], [2025.115, 89540], [2025.141, 93110], [2025.163, 86100], [2025.189, 79620], [2025.208, 82790],
  [2025.227, 79620], [2025.245, 82790], [2025.264, 79620], [2025.283, 86100], [2025.301, 93110], [2025.327, 96830],
  [2025.357, 104700], [2025.387, 109100], [2025.413, 104700], [2025.439, 104700], [2025.469, 100700], [2025.498, 104700],
  [2025.525, 109100], [2025.543, 118000], [2025.573, 122700], [2025.599, 118000], [2025.625, 122700], [2025.655, 113500],
  [2025.685, 109100], [2025.711, 113500], [2025.737, 118000], [2025.759, 122700], [2025.785, 113500], [2025.811, 109100],
  [2025.841, 104700], [2025.86, 93110], [2025.878, 86100], [2025.908, 82790], [2025.934, 82790], [2025.96, 86100],
  [2025.99, 82790], [2026.02, 89540], [2026.046, 93110], [2026.064, 86100], [2026.083, 76560], [2026.102, 65460],
  [2026.12, 62950], [2026.146, 65460], [2026.169, 65460], [2026.195, 68080], [2026.214, 70790], [2026.243, 68080],
];

// signal strip: each segment runs from its start to the next start
const signalStarts = [
  2010.981, 2011.058, 2011.082, 2011.309, 2011.484, 2011.846, 2012.21, 2012.24, 2012.762, 2012.911,
  2013.335, 2013.626, 2013.991, 2014.416, 2014.575, 2014.903, 2015.011, 2015.171, 2015.272, 2015.346,
  2015.361, 2015.447, 2015.689, 2015.774, 2016.069, 2016.128, 2016.583, 2016.777, 2017.22, 2017.249,
  2017.525, 2017.6, 2017.693, 2017.841, 2018.017, 2018.568, 2018.59, 2018.657, 2018.74, 2018.956,
  2019.003, 2019.216, 2019.648, 2020.038, 2020.193, 2020.344, 2021.143, 2021.599, 2021.929, 2022.229,
  2022.3, 2022.836, 2022.987, 2023.034, 2023.387, 2023.48, 2023.626, 2023.791, 2024.326, 2024.788,
  2025.084, 2025.342, 2025.634,
];
const signalEnd = 2026.236;
// first segment is 'sell', then they alternate
const signalSides = signalStarts.map((_, i) => (i % 2 === 0 ? 'sell' : 'buy'));

const leftTicks = [0.1, 0.2, 0.3, 0.4, 0.5, 0.6, 0.7];
const priceTicks = [1, 10, 100, 1000, 10000, 100000];

const X_MIN = 2010.8994;
const X_MAX = 2026.3184;
const LEFT_MIN = 0.0797;
const LEFT_MAX = 0.7613;
const PRICE_MIN = 0.3649;
const PRICE_MAX = 134900;
const STRIP_TOP = 0.1165;

const GREEN = '#14b582';
const BLUE = '#1e90ff';
const BG = '#0c0c0c';

const toPoints = (arr: [number, number][]) => arr.map(([t, v]) => ({ t, v }));

const fmtPrice = (v: number) => (v >= 1000 ? `$${(v / 1000).toFixed(1)}K` : `$${v}`);

export default function App() {
  const oscData = toPoints(oscillator);
  const smoothData = toPoints(smoothed);
  const priceData = toPoints(price);

  return (
    <div
      style={{
        position: 'absolute',
        left: 0,
        top: 0,
        width: 1531,
        height: 739,
        background: BG,
        overflow: 'hidden',
      }}
    >
      <div
        style={{
          position: 'absolute',
          left: 566,
          top: 368,
          width: 414,
          textAlign: 'center',
          fontFamily: '"Liberation Sans", Arial, sans-serif',
          fontWeight: 700,
          fontSize: 53,
          lineHeight: '56px',
          color: '#212121',
          letterSpacing: -0.5,
        }}
      >
        CHARTINSPECT
      </div>
      <LineChart
        width={1531}
        height={739}
        margin={{ top: 33, right: 0, bottom: 0, left: 0 }}
        style={{ position: 'absolute', left: 0, top: 0 }}
      >
        <CartesianGrid
          yAxisId="left"
          vertical={false}
          horizontalValues={leftTicks}
          stroke="#2a2a2a"
          strokeDasharray="5 4"
        />
        <XAxis
          dataKey="t"
          type="number"
          domain={[X_MIN, X_MAX]}
          allowDataOverflow
          hide
        />
        <YAxis
          yAxisId="left"
          orientation="left"
          width={61}
          type="number"
          domain={[LEFT_MIN, LEFT_MAX]}
          allowDataOverflow
          ticks={leftTicks}
          tickFormatter={(v: number) => v.toFixed(2)}
          tick={{ fill: GREEN, fontSize: 16, fontFamily: '"Noto Sans", sans-serif' }}
          axisLine={{ stroke: GREEN, strokeWidth: 2 }}
          tickLine={false}
        />
        <YAxis
          yAxisId="right"
          orientation="right"
          width={90}
          type="number"
          scale="log"
          domain={[PRICE_MIN, PRICE_MAX]}
          allowDataOverflow
          ticks={priceTicks}
          tickFormatter={fmtPrice}
          tick={{ fill: '#e2e2e2', fontSize: 16, fontFamily: '"Noto Sans", sans-serif' }}
          axisLine={{ stroke: '#d4d4d4', strokeWidth: 2 }}
          tickLine={false}
        />
        <Line
          yAxisId="left"
          data={oscData}
          dataKey="v"
          type="monotone"
          stroke={GREEN}
          strokeWidth={2.7}
          dot={false}
          isAnimationActive={false}
        />
        <Line
          yAxisId="left"
          data={smoothData}
          dataKey="v"
          type="monotone"
          stroke={BLUE}
          strokeWidth={2.8}
          dot={false}
          isAnimationActive={false}
        />
        <Line
          yAxisId="right"
          data={priceData}
          dataKey="v"
          type="linear"
          stroke="#ffffff"
          strokeWidth={3}
          strokeLinejoin="round"
          dot={false}
          isAnimationActive={false}
        />
        {signalStarts.map((start, i) => (
          <ReferenceArea
            key={`sig-${i}`}
            yAxisId="left"
            x1={start}
            x2={i + 1 < signalStarts.length ? signalStarts[i + 1] : signalEnd}
            y1={LEFT_MIN}
            y2={STRIP_TOP}
            fill={signalSides[i] === 'sell' ? '#be3a3a' : '#21a050'}
            fillOpacity={0.85}
            stroke="none"
            ifOverflow="hidden"
            zIndex={1100}
          />
        ))}
      </LineChart>
    </div>
  );
}
